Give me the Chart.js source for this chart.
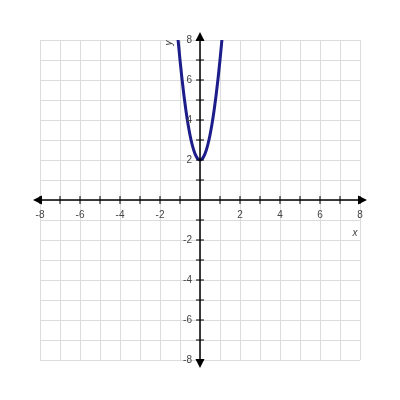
<!DOCTYPE html>
<html>
<head>
<meta charset="utf-8">
<script src="https://cdn.jsdelivr.net/npm/chart.js@4"></script>
<style>
  html, body { margin: 0; padding: 0; background: #fff; }
  #graph { display: block; }
</style>
</head>
<body>
<canvas id="graph" width="400" height="400"></canvas>
<script>
// axis range and labels
const axisMin = -8;
const axisMax = 8;
const xTickLabels = [-8, -6, -4, -2, 2, 4, 6, 8];
const yTickLabels = [-8, -6, -4, -2, 2, 4, 6, 8];

// parabola points
const curveX = [-1.1, -1.0, -0.9, -0.8, -0.7, -0.6, -0.5, -0.4, -0.3, -0.2, -0.1, 0, 0.1, 0.2, 0.3, 0.4, 0.5, 0.6, 0.7, 0.8, 0.9, 1.0, 1.1];
const curveY = [8.05, 7.0, 6.05, 5.2, 4.45, 3.8, 3.25, 2.8, 2.45, 2.2, 2.05, 2.0, 2.05, 2.2, 2.45, 2.8, 3.25, 3.8, 4.45, 5.2, 6.05, 7.0, 8.05];

// ✅ Draws the axes through the origin, arrows, ticks and labels
const axesPlugin = {
  id: 'originAxes',
  afterDatasetsDraw(chart) {
    const { ctx, scales: { x, y } } = chart;
    const x0 = x.getPixelForValue(0);
    const y0 = y.getPixelForValue(0);
    const left = x.getPixelForValue(axisMin);
    const right = x.getPixelForValue(axisMax);
    const top = y.getPixelForValue(axisMax);
    const bottom = y.getPixelForValue(axisMin);

    ctx.save();
    ctx.strokeStyle = '#000';
    ctx.fillStyle = '#000';
    ctx.lineWidth = 1.5;

    ctx.beginPath();
    ctx.moveTo(left - 4, y0);
    ctx.lineTo(right + 4, y0);
    ctx.moveTo(x0, top - 4);
    ctx.lineTo(x0, bottom + 4);
    ctx.stroke();

    // arrow heads
    const arrow = (tx, ty, dx, dy) => {
      const len = 9, w = 4.5;
      ctx.beginPath();
      ctx.moveTo(tx, ty);
      ctx.lineTo(tx - dx * len - dy * w, ty - dy * len - dx * w);
      ctx.lineTo(tx - dx * len + dy * w, ty - dy * len + dx * w);
      ctx.closePath();
      ctx.fill();
    };
    arrow(left - 7, y0, -1, 0);
    arrow(right + 7, y0, 1, 0);
    arrow(x0, top - 8, 0, -1);
    arrow(x0, bottom + 8, 0, 1);

    // tick marks on every unit
    ctx.lineWidth = 1;
    ctx.beginPath();
    for (let v = axisMin; v <= axisMax; v++) {
      if (v === 0) continue;
      const px = x.getPixelForValue(v);
      const py = y.getPixelForValue(v);
      ctx.moveTo(px, y0 - 4);
      ctx.lineTo(px, y0 + 4);
      ctx.moveTo(x0 - 4, py);
      ctx.lineTo(x0 + 4, py);
    }
    ctx.stroke();

    // tick labels
    ctx.fillStyle = '#444';
    ctx.font = '10px "Liberation Sans", Arial, sans-serif';
    ctx.textAlign = 'center';
    ctx.textBaseline = 'top';
    xTickLabels.forEach(v => ctx.fillText(String(v), x.getPixelForValue(v), y0 + 10));
    ctx.textAlign = 'right';
    ctx.textBaseline = 'middle';
    yTickLabels.forEach(v => ctx.fillText(String(v), x0 - 8, y.getPixelForValue(v)));

    // axis names
    ctx.font = 'italic 10px "Liberation Sans", Arial, sans-serif';
    ctx.textAlign = 'center';
    ctx.fillText('x', right - 5, y0 + 33);
    ctx.translate(x0 - 31, top + 3);
    ctx.rotate(-Math.PI / 2);
    ctx.fillText('y', 0, 0);
    ctx.restore();
  }
};

document.addEventListener('DOMContentLoaded', () => {
  const ctx = document.getElementById('graph').getContext('2d');

  new Chart(ctx, {
    type: 'scatter',
    data: {
      datasets: [{
        data: curveX.map((v, i) => ({ x: v, y: curveY[i] })),
        showLine: true,
        borderColor: '#1c1c8a',
        borderWidth: 3,
        pointRadius: 0,
        cubicInterpolationMode: 'monotone',
        fill: false
      }]
    },
    options: {
      responsive: false,
      animation: false,
      layout: { padding: { left: 40, right: 40, top: 40, bottom: 40 } },
      plugins: {
        legend: { display: false },
        tooltip: { enabled: false }
      },
      scales: {
        x: {
          type: 'linear',
          min: axisMin,
          max: axisMax,
          ticks: { stepSize: 1, display: false },
          grid: { color: '#dcdcdc', drawTicks: false },
          border: { display: false }
        },
        y: {
          type: 'linear',
          min: axisMin,
          max: axisMax,
          ticks: { stepSize: 1, display: false },
          grid: { color: '#dcdcdc', drawTicks: false },
          border: { display: false }
        }
      }
    },
    plugins: [axesPlugin]
  });
});
</script>
</body>
</html>
